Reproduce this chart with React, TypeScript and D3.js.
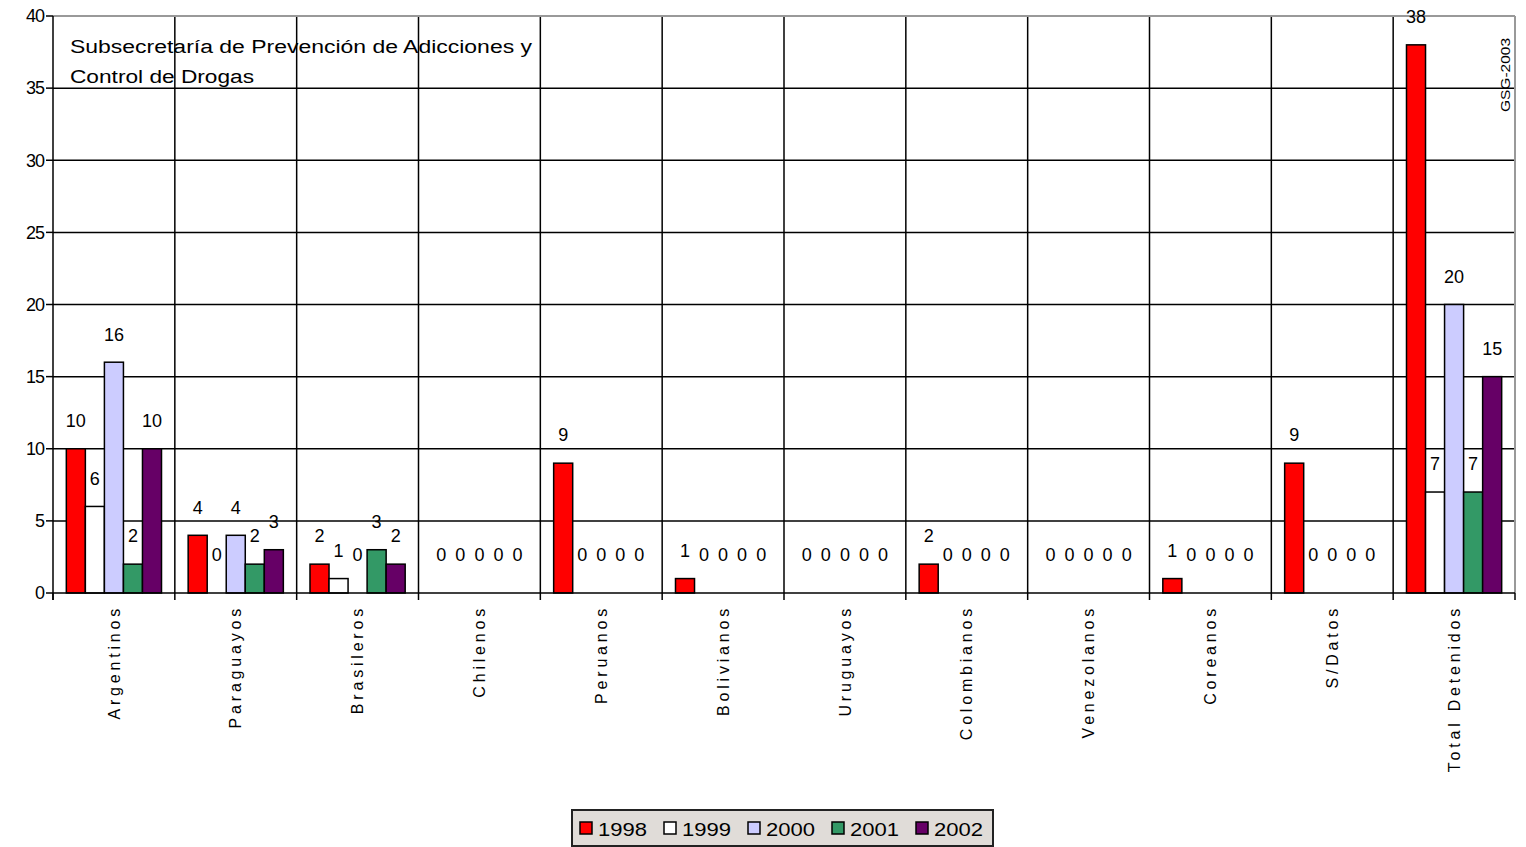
import React from "react";
import * as d3 from "d3";

const categories = ["Argentinos","Paraguayos","Brasileros","Chilenos","Peruanos","Bolivianos","Uruguayos","Colombianos","Venezolanos","Coreanos","S/Datos","Total Detenidos"];
const years = ["1998","1999","2000","2001","2002"];
const v1998 = [10,4,2,0,9,1,0,2,0,1,9,38];
const v1999 = [6,0,1,0,0,0,0,0,0,0,0,7];
const v2000 = [16,4,0,0,0,0,0,0,0,0,0,20];
const v2001 = [2,2,3,0,0,0,0,0,0,0,0,7];
const v2002 = [10,3,2,0,0,0,0,0,0,0,0,15];
const yTicks = [0,5,10,15,20,25,30,35,40];
const colors = ["#ff0000","#ffffff","#ccccff","#339966","#660066"];
const series = [v1998, v1999, v2000, v2001, v2002];

const W = 1526, H = 847;
const L = 53, R = 1515, T = 16, B = 593;

export default function App() {
  const x = d3.scaleBand<string>().domain(categories).range([L, R]).paddingInner(0).paddingOuter(0);
  const step = x.step();
  const bw = step / (5 + 1.4);
  const inner = d3.scaleBand<string>().domain(years).range([0.7 * bw, 0.7 * bw + 5 * bw]);
  const y = d3.scaleLinear().domain([0, 40]).range([B, T]);
  const font = "'Liberation Sans', Arial, sans-serif";

  return (
    <svg width={W} height={H} style={{ position: "absolute", left: 0, top: 0, background: "#fff" }} fontFamily={font}>
      <rect x={0} y={0} width={W} height={H} fill="#fff" />
      {yTicks.filter(t => t > 0 && t < 40).map(t => (
        <line key={"g" + t} x1={L} x2={R} y1={y(t)} y2={y(t)} stroke="#000" strokeWidth={1.5} />
      ))}
      {categories.slice(1).map(c => (
        <line key={"v" + c} x1={x(c)!} x2={x(c)!} y1={T} y2={B} stroke="#000" strokeWidth={1.5} />
      ))}
      <line x1={L} x2={R} y1={T} y2={T} stroke="#999" strokeWidth={2} />
      <line x1={R} x2={R} y1={T} y2={B} stroke="#999" strokeWidth={2} />
      {categories.map((c, ci) => (
        <g key={"b" + c}>
          {series.map((s, si) => {
            const v = s[ci];
            if (v === 0) return null;
            return (
              <rect key={si} x={x(c)! + inner(years[si])!} y={y(v)} width={inner.bandwidth()} height={B - y(v)}
                fill={colors[si]} stroke="#000" strokeWidth={1.5} />
            );
          })}
        </g>
      ))}
      {categories.map((c, ci) => (
        <g key={"l" + c}>
          {series.map((s, si) => {
            const v = s[ci];
            const cx = x(c)! + inner(years[si])! + inner.bandwidth() / 2;
            const off = v === 0 ? 38 : 28;
            return (
              <text key={si} x={cx} y={y(v) - off} dy="0.35em" textAnchor="middle" fontSize={18} fill="#000">{v}</text>
            );
          })}
        </g>
      ))}
      <line x1={L} x2={L} y1={T} y2={B + 7} stroke="#000" strokeWidth={1.5} />
      <line x1={L} x2={R} y1={B} y2={B} stroke="#000" strokeWidth={1.5} />
      {yTicks.map(t => (
        <g key={"t" + t}>
          <line x1={L - 7} x2={L} y1={y(t)} y2={y(t)} stroke="#000" strokeWidth={1.5} />
          <text x={L - 9} y={y(t)} dy="0.35em" textAnchor="end" fontSize={18} letterSpacing={-1} fill="#000">{t}</text>
        </g>
      ))}
      {categories.map(c => (
        <line key={"xt" + c} x1={x(c)!} x2={x(c)!} y1={B} y2={B + 7} stroke="#000" strokeWidth={1.5} />
      ))}
      <line x1={R} x2={R} y1={B} y2={B + 7} stroke="#000" strokeWidth={1.5} />
      {categories.map(c => (
        <text key={"cl" + c} transform={`translate(${x(c)! + step / 2},605) rotate(-90)`} dy="0.35em"
          textAnchor="end" fontSize={16} letterSpacing={3.8} fill="#000">{c}</text>
      ))}
      <text x={70} y={53} fontSize={18} textLength={462} lengthAdjust="spacingAndGlyphs" fill="#000">Subsecretaría de Prevención de Adicciones y</text>
      <text x={70} y={83} fontSize={18} textLength={184} lengthAdjust="spacingAndGlyphs" fill="#000">Control de Drogas</text>
      <text transform="translate(1505,75) rotate(-90)" dy="0.35em" textAnchor="middle" fontSize={13}
        textLength={74} lengthAdjust="spacingAndGlyphs" fill="#000">GSG-2003</text>
      <rect x={572} y={810} width={421} height={36} fill="#e0dcd8" stroke="#222" strokeWidth={2} />
      {years.map((yr, i) => (
        <g key={"lg" + yr} transform={`translate(${580 + i * 84},0)`}>
          <rect x={0} y={822} width={12} height={12} fill={colors[i]} stroke="#000" strokeWidth={1.5} />
          <text x={18} y={829} dy="0.35em" fontSize={19} textLength={49} lengthAdjust="spacingAndGlyphs" fill="#000">{yr}</text>
        </g>
      ))}
    </svg>
  );
}
